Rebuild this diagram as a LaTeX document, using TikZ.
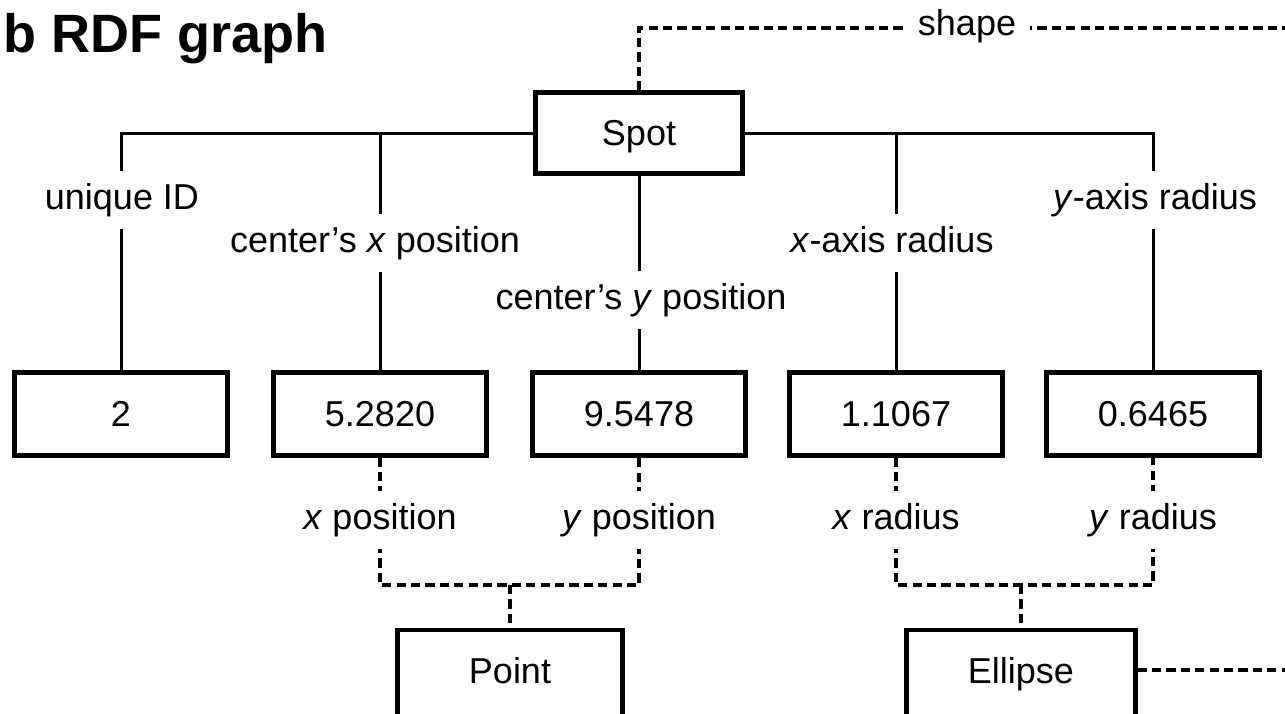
\documentclass[tikz,border=0pt]{standalone}
\usepackage{fontspec}
\setmainfont{Liberation Sans}
\usetikzlibrary{shadows}

\tikzset{
    valbox/.style={draw,line width=2.1pt,fill=white,inner sep=0pt,
        minimum width=106.5pt,minimum height=41.5pt,text height=12.9pt,text depth=0pt,
        font=\fontsize{18}{20}\selectfont,
        drop shadow={shadow xshift=1pt,shadow yshift=-1pt,opacity=1,fill=black}},
    lbl/.style={fill=white,inner xsep=4pt,inner ysep=6pt,text height=12.9pt,text depth=3.8pt,
        font=\fontsize{18}{20}\selectfont},
    link/.style={line width=1.5pt},
    dlink/.style={line width=1.7pt,dash pattern=on 4.6pt off 2.6pt}
}

\begin{document}
\begin{tikzpicture}[line cap=butt,line join=miter,x=0.5pt,y=-0.5pt]
        \useasboundingbox (0,0) rectangle (1285,713);
        \clip (0,0) rectangle (1285,713);
        \coordinate (rim) at (1300,28);
        \coordinate (eout) at (1300,670);
        \node[anchor=base west,inner sep=0pt,font=\bfseries\fontsize{27}{30}\selectfont] (title) at (3,52) {b RDF graph};
        % spot node and its values
        \node[valbox,minimum width=103.5pt,minimum height=40.5pt] (spot) at (639,133) {Spot};
        \foreach \v/\x/\n in {2/121/id,5.2820/380/cx,9.5478/639/cy,1.1067/896/rx,0.6465/1153/ry}
        \node[valbox] (\n) at (\x,414) {\v};
        \node[valbox,anchor=north,minimum width=112.5pt,minimum height=50pt,text depth=10pt] (point) at (510,628) {Point};
        \node[valbox,anchor=north,minimum width=114.5pt,minimum height=50pt,text depth=10pt] (ellipse) at (1021,628) {Ellipse};
        \coordinate (pbar) at (510,585);
        \coordinate (ebar) at (1021,585);
        % solid links
        \draw[link] (spot.west) -| (id.north);
        \draw[link] (cx.north) -- (cx.north |- spot.west);
        \draw[link] (spot.south) -- (cy.north);
        \draw[link] (spot.east) -| (ry.north);
        \draw[link] (rx.north) -- (rx.north |- spot.east);
        % dashed links
        \draw[dlink] (spot.north) |- (rim);
        \draw[dlink] (cx.south) |- (pbar) -| (cy.south);
        \draw[dlink] (pbar) -- (point.north);
        \draw[dlink] (rx.south) |- (ebar) -| (ry.south);
        \draw[dlink] (ebar) -- (ellipse.north);
        \draw[dlink] (ellipse.east |- eout) -- (eout);
        % labels
        \node[lbl] (lid) at (122,200) {unique ID};
        \node[lbl] (lcx) at (375,243) {center's \textit{x} position};
        \node[lbl] (lcy) at (641,300) {center's \textit{y} position};
        \node[lbl] (lrx) at (892,243) {\textit{x}-axis radius};
        \node[lbl] (lry) at (1155,200) {\textit{y}-axis radius};
        \node[lbl] (lxp) at (380,520) {\textit{x} position};
        \node[lbl] (lyp) at (639,520) {\textit{y} position};
        \node[lbl] (lxr) at (896,520) {\textit{x} radius};
        \node[lbl] (lyr) at (1153,520) {\textit{y} radius};
        \node[lbl,inner xsep=7pt] (lshape) at (967,26) {shape};
    \end{tikzpicture}
\end{document}
